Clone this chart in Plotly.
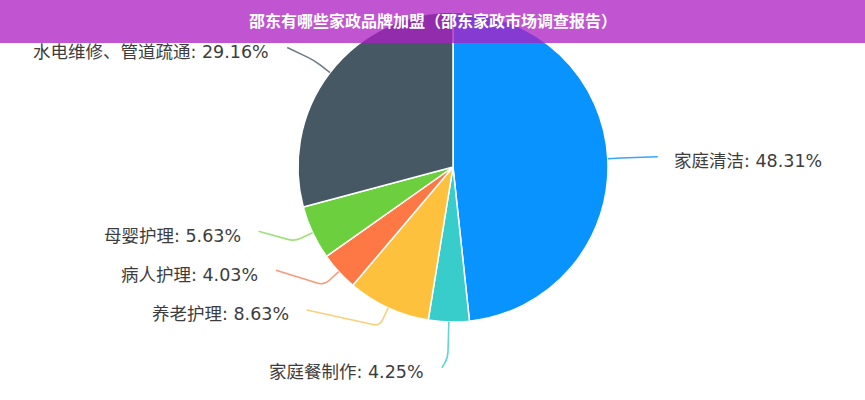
import math
import plotly.graph_objects as go

# ---- data ----
categories = ["家庭清洁", "家庭餐制作", "养老护理", "病人护理", "母婴护理", "水电维修、管道疏通"]
values = [48.31, 4.25, 8.63, 4.03, 5.63, 29.16]
title_text = "邵东有哪些家政品牌加盟（邵东家政市场调查报告）"

# ---- style ----
colors = ["#0993ff", "#38cccb", "#fdc13d", "#fe7845", "#6ccf3d", "#455864"]
line_colors = ["#3aa4ff", "#5fd6d4", "#fbd07a", "#f79a7a", "#9fe07c", "#6f7d86"]
# label line geometry per slice: (radial length, dx, dy) relative to the bend point
line_geom = [(20, 30, -1), (36, -6, 10), (20, -73, -16), (20, -48, -15), (20, -36, -10), (20, -27, -13)]

W, H = 865, 400
CX, CY, R = 453, 167, 155
FONT = "DejaVu Sans, Noto Sans CJK SC"
TITLE_FONT = "Noto Sans CJK SC"

fig = go.Figure()
fig.add_trace(go.Pie(
    labels=categories, values=values, sort=False, direction="clockwise", rotation=0,
    marker=dict(colors=colors, line=dict(color="white", width=1.5)),
    textinfo="none", hoverinfo="label+percent", showlegend=False,
    domain=dict(x=[(CX - R) / W, (CX + R) / W], y=[1 - (CY + R) / H, 1 - (CY - R) / H]),
))

shapes = []
annotations = []
total = sum(values)
cum = 0.0
for cat, v, lc, (l1, dx, dy) in zip(categories, values, line_colors, line_geom):
    mid = (cum + v / 2) / total * 2 * math.pi
    cum += v
    sx, sy = math.sin(mid), -math.cos(mid)
    p0 = (CX + R * sx, CY + R * sy)
    p1 = (CX + (R + l1) * sx, CY + (R + l1) * sy)
    p2 = (p1[0] + dx, p1[1] + dy)

    def toward(a, b, d):
        vx, vy = b[0] - a[0], b[1] - a[1]
        n = math.hypot(vx, vy) or 1
        d = min(d, n * 0.5)
        return (a[0] + vx / n * d, a[1] + vy / n * d)

    a = toward(p1, p0, 7)
    b = toward(p1, p2, 7)
    path = (f"M {p0[0]:.2f},{p0[1]:.2f} L {a[0]:.2f},{a[1]:.2f} "
            f"Q {p1[0]:.2f},{p1[1]:.2f} {b[0]:.2f},{b[1]:.2f} L {p2[0]:.2f},{p2[1]:.2f}")
    shapes.append(dict(type="path", xref="x", yref="y", path=path,
                       line=dict(color=lc, width=1.6), layer="above"))
    right = dx > 0
    pct = f"{v / total * 100:.2f}%"
    annotations.append(dict(
        x=p2[0] + (14 if right else -16), y=p2[1] + 4.5, xref="x", yref="y",
        text=f"{cat}: {pct}", showarrow=False,
        xanchor="left" if right else "right", yanchor="middle",
        font=dict(family=FONT, size=17.5, color="#3d3d3d"),
    ))

# title bar
shapes.append(dict(type="rect", xref="paper", yref="paper", x0=0, x1=1, y0=1 - 43 / H, y1=1,
                   fillcolor="rgba(172,30,194,0.76)", line=dict(width=0), layer="above"))
annotations.append(dict(x=0.5, y=1 - 20 / H, xref="paper", yref="paper", text=f"<b>{title_text}</b>",
                        showarrow=False, xanchor="center", yanchor="middle",
                        font=dict(family=TITLE_FONT, size=16, color="white")))

fig.update_layout(
    width=W, height=H, margin=dict(l=0, r=0, t=0, b=0),
    paper_bgcolor="white", plot_bgcolor="white",
    xaxis=dict(range=[0, W], visible=False, fixedrange=True),
    yaxis=dict(range=[H, 0], visible=False, fixedrange=True),
    shapes=shapes, annotations=annotations,
)
fig.write_html("out.html", config={"displayModeBar": False},
               post_script="document.body.style.margin='0';")
